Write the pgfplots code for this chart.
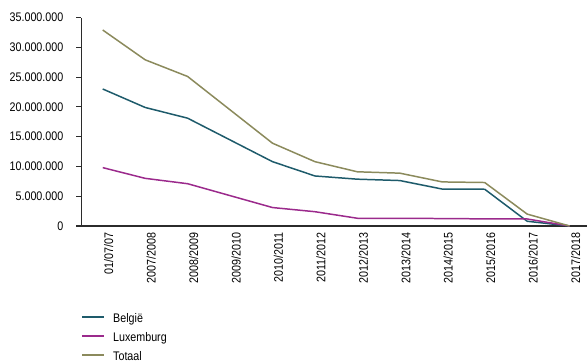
\documentclass[border=0pt]{standalone}
\usepackage{fontspec}
\setmainfont{Liberation Sans}[FakeStretch=0.86]
\usepackage{pgfplots}
\pgfplotsset{compat=1.18}

\definecolor{cBE}{HTML}{1E5B6B}
\definecolor{cLU}{HTML}{9B2A8C}
\definecolor{cTOT}{HTML}{8B8A5C}
\definecolor{axisgray}{HTML}{2B2B2B}

\begin{document}
\begin{tikzpicture}[x=1bp,y=1bp]
\useasboundingbox (-81.5,-136) rectangle (505.5,226);
\begin{axis}[
  at={(0,0)}, anchor=south west,
  scale only axis,
  width=505.5bp, height=208.5bp,
  xmin=-0.5, xmax=11.41,
  ymin=0, ymax=35000000,
  axis x line=bottom, axis y line=left,
  axis line style={-, line width=1.3pt, color=axisgray},
  every tick/.style={line width=1.1pt, color=axisgray},
  tick align=outside,
  major tick length=5bp,
  xtick={0,...,11},
  xticklabels={01/07/07,2007/2008,2008/2009,2009/2010,2010/2011,2011/2012,2012/2013,2013/2014,2014/2015,2015/2016,2016/2017,2017/2018},
  x tick style={draw=none},
  extra x ticks={-0.5,0.5,1.5,2.5,3.5,4.5,5.5,6.5,7.5,8.5,9.5,10.5},
  extra x tick labels={},
  extra x tick style={tick style={draw=axisgray, line width=1.1pt}, major tick length=5bp},
  xticklabel style={rotate=90, anchor=east, font=\fontsize{12.5}{14}\selectfont, inner sep=0pt, yshift=-6bp, xshift=-1.5bp},
  xtick pos=bottom,
  ytick={0,5000000,...,35000000},
  yticklabel={\pgfmathprintnumber{\tick}},
  scaled y ticks=false,
  /pgf/number format/.cd, fixed, precision=0, 1000 sep={.}, assume math mode=true,
  /pgfplots/.cd,
  yticklabel style={font=\fontsize{12.5}{14}\selectfont, inner sep=0pt, xshift=-13bp},
  clip=false,
  legend style={at={(0,-0.42)}, anchor=north west, draw=none, fill=none,
    inner sep=0pt, row sep=7bp, column sep=8bp, font=\fontsize{12.5}{14}\selectfont,
    nodes={inner sep=0pt, text height=9bp, text depth=3bp}},
  legend cell align=left,
  legend image code/.code={\draw[#1] (0bp,3bp) -- (22bp,3bp);},
  legend image post style={line width=1.5pt},
]
\addplot[cBE, line width=1.5pt] coordinates {
  (0,23000000) (1,19900000) (2,18100000) (3,14450000) (4,10800000) (5,8400000)
  (6,7860000) (7,7630000) (8,6200000) (9,6170000) (10,800000) (11,0)};
\addlegendentry{België}
\addplot[cLU, line width=1.5pt] coordinates {
  (0,9800000) (1,8000000) (2,7100000) (3,5100000) (4,3100000) (5,2400000)
  (6,1300000) (7,1300000) (8,1250000) (9,1200000) (10,1180000) (11,0)};
\addlegendentry{Luxemburg}
\addplot[cTOT, line width=1.5pt] coordinates {
  (0,32900000) (1,27900000) (2,25100000) (3,19500000) (4,13900000) (5,10800000)
  (6,9100000) (7,8870000) (8,7400000) (9,7300000) (10,2000000) (11,0)};
\addlegendentry{Totaal}
\end{axis}
\end{tikzpicture}
\end{document}
